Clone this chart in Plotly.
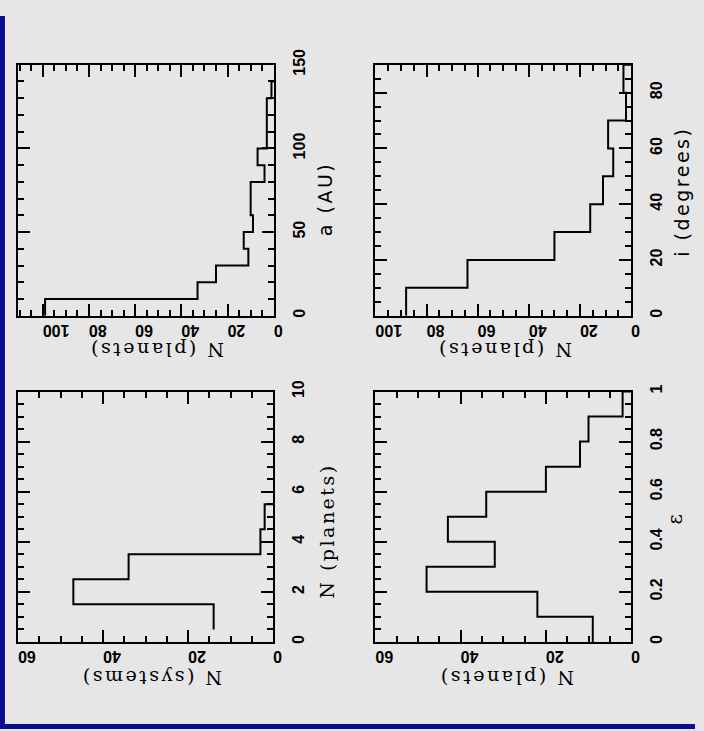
import plotly.graph_objects as go

W, H = 704, 731

# ---------------- data ----------------
# Panel A: semi-major axis a (AU), 10 AU bins
a_bin_start = [0, 10, 20, 30, 40, 50, 60, 70, 80, 90, 100, 110, 120, 130]
a_counts = [99, 33, 25, 11, 13, 9, 10, 10, 4, 7, 3, 3, 3, 1]
a_bin_width = 10

# Panel B: inclination i (degrees), 10 degree bins
i_bin_start = [0, 10, 20, 30, 40, 50, 60, 70, 80]
i_counts = [88, 64, 30, 16, 11, 7, 9, 2, 3]
i_bin_width = 10

# Panel C: number of planets per system (bins centred on integers)
np_values = [1, 2, 3, 4, 5]
np_counts = [14, 47, 34, 3, 2]
np_bin_width = 1

# Panel D: eccentricity, 0.1 bins
e_bin_start = [0.0, 0.1, 0.2, 0.3, 0.4, 0.5, 0.6, 0.7, 0.8, 0.9]
e_counts = [9, 22, 48, 32, 43, 34, 20, 12, 10, 2]
e_bin_width = 0.1

# ---------------- helpers ----------------
def px_x(p):
    return p / W

def px_y(p):
    return 1 - p / H

BG = "#e6e6e6"
TICKFONT = dict(family="Liberation Sans, Arial, sans-serif", size=16, color="#000000", weight="bold")
SANS = dict(family="DejaVu Sans, sans-serif", size=19, color="#000000")
SERIF = dict(family="DejaVu Serif, serif", size=19, color="#000000")

def spaced(t, sp):
    return '<span style="letter-spacing:%spx">%s</span>' % (sp, t)

def count_axis(domain, rng, dtick, mdtick, anchor):
    return dict(domain=domain, range=rng, dtick=dtick, tick0=0, anchor=anchor,
                ticks="inside", ticklen=12, tickwidth=1.6, tickcolor="black",
                showline=True, linewidth=2, linecolor="black", mirror="allticks",
                showgrid=False, zeroline=False, tickangle=180, tickfont=TICKFONT,
                ticklabelstandoff=4,
                minor=dict(dtick=mdtick, tick0=0, ticks="inside", ticklen=6,
                           tickwidth=1.6, tickcolor="black", showgrid=False),
                fixedrange=True)

def var_axis(domain, rng, dtick, mdtick, anchor):
    return dict(domain=domain, range=rng, dtick=dtick, tick0=0, anchor=anchor, side="right",
                ticks="inside", ticklen=12, tickwidth=1.6, tickcolor="black",
                showline=True, linewidth=2, linecolor="black", mirror="allticks",
                showgrid=False, zeroline=False, tickangle=-90, tickfont=TICKFONT,
                ticklabelstandoff=10,
                minor=dict(dtick=mdtick, tick0=0, ticks="inside", ticklen=6,
                           tickwidth=1.6, tickcolor="black", showgrid=False),
                fixedrange=True)

def hist(starts, counts, width, xa, ya):
    # step outline: vertical run over each bin, horizontal jump at bin edges
    top = starts[-1] + width
    xs = list(counts) + [counts[-1], 0]
    ys = list(starts) + [top, top]
    return go.Scatter(x=xs, y=ys, mode="lines", line=dict(color="black", width=2, shape="vh"),
                      xaxis=xa, yaxis=ya, showlegend=False, hoverinfo="skip")

fig = go.Figure()
fig.add_trace(hist(a_bin_start, a_counts, a_bin_width, "x", "y"))
fig.add_trace(hist(i_bin_start, i_counts, i_bin_width, "x2", "y2"))
fig.add_trace(hist([v - np_bin_width / 2 for v in np_values], np_counts, np_bin_width, "x3", "y3"))
fig.add_trace(hist(e_bin_start, e_counts, e_bin_width, "x4", "y4"))

# panel boxes in pixels: (left, right, top, bottom)
boxA = (18.3, 277.3, 50, 307.3)
boxB = (380.3, 639.3, 50, 307.3)
boxC = (18.3, 276.7, 385, 641.7)
boxD = (380.3, 639.3, 385, 641.7)

def dom(box):
    l, r, t, b = box
    return [px_x(l), px_x(r)], [px_y(b), px_y(t)]

dxA, dyA = dom(boxA)
dxB, dyB = dom(boxB)
dxC, dyC = dom(boxC)
dxD, dyD = dom(boxD)

layout = dict(
    width=W, height=H, margin=dict(l=0, r=0, t=0, b=0),
    paper_bgcolor=BG, plot_bgcolor=BG,
    xaxis=count_axis(dxA, [110.7, 0], 20, 5, "y"),
    yaxis=var_axis(dyA, [0, 150], 50, 10, "x"),
    xaxis2=count_axis(dxB, [100, 0], 20, 5, "y2"),
    yaxis2=var_axis(dyB, [0, 90], 20, 5, "x2"),
    xaxis3=count_axis(dxC, [60, 0], 20, 5, "y3"),
    yaxis3=var_axis(dyC, [0, 10], 2, 0.5, "x3"),
    xaxis4=count_axis(dxD, [60, 0], 20, 5, "y4"),
    yaxis4=var_axis(dyD, [0, 1], 0.2, 0.05, "x4"),
)
fig.update_layout(**layout)

def ann(text, x, y, angle, font):
    fig.add_annotation(text=text, x=px_x(x), y=px_y(y), xref="paper", yref="paper",
                       showarrow=False, textangle=angle, font=font,
                       xanchor="center", yanchor="middle")

# horizontal-axis titles (upside down)
ann(spaced("N (planets)", 2.5), 158, 343, 180, SERIF)
ann(spaced("N (planets)", 2.5), 511, 343, 180, SERIF)
ann(spaced("N (systems)", 2.5), 153, 678, 180, SERIF)
ann(spaced("N (planets)", 2.5), 513, 678, 180, SERIF)
# vertical-axis titles
ann(spaced("a (AU)", 2.5), 330, 188, -90, SANS)
ann(spaced("i (degrees)", 2.5), 690, 180, -90, SANS)
ann(spaced("N (planets)", 2.5), 331, 528, -90, SERIF)
ann("ε", 684, 516, -90, dict(family="DejaVu Serif, serif", size=20, color="#000000"))

# blue frame on the left and bottom edges
fig.add_shape(type="rect", xref="paper", yref="paper", x0=0, x1=5 / W, y0=0, y1=1,
              fillcolor="#0c0c92", line=dict(width=0), layer="above")
fig.add_shape(type="rect", xref="paper", yref="paper", x0=0, x1=1, y0=0, y1=5 / H,
              fillcolor="#0c0c92", line=dict(width=0), layer="above")

fig.write_html("out.html")
